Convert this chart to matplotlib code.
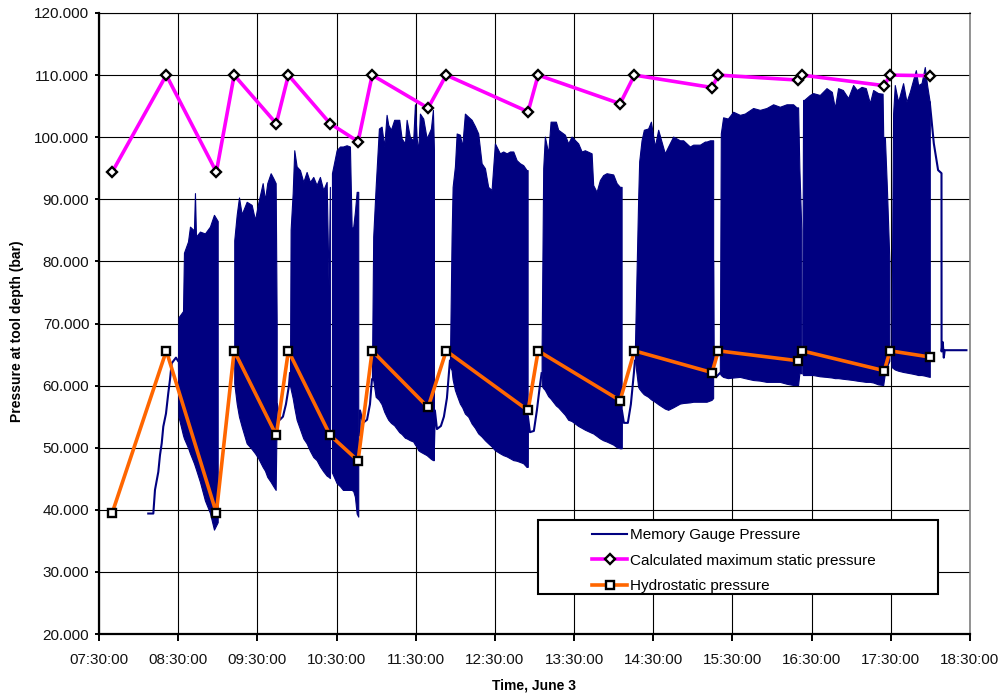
import numpy as np
import matplotlib
matplotlib.use('Agg')
import matplotlib.pyplot as plt
from matplotlib.ticker import FuncFormatter
from matplotlib.lines import Line2D
from matplotlib.patches import Rectangle

plt.rcParams['font.family'] = ['Liberation Sans', 'DejaVu Sans']

# ---------------- data (time in decimal hours, pressure in bar) ----------------
event_times = [7.667, 8.350, 8.982, 9.207, 9.739, 9.892, 10.419, 10.772, 10.950,
               11.656, 11.885, 12.919, 13.046, 14.081, 14.262, 15.242, 15.322,
               16.328, 16.380, 17.417, 17.490, 17.997]
static_max = [94.4, 110.0, 94.4, 110.0, 102.2, 110.0, 102.2, 99.3, 110.0,
              104.7, 110.0, 104.1, 110.0, 105.4, 110.0, 108.0, 110.0,
              109.2, 110.0, 108.3, 110.0, 109.9]
hydrostatic = [39.5, 65.6, 39.5, 65.6, 52.0, 65.6, 52.0, 47.9, 65.6,
               56.5, 65.6, 56.0, 65.6, 57.6, 65.6, 62.1, 65.6,
               64.0, 65.6, 62.4, 65.6, 64.6]

# memory gauge: envelope (max / min) of the oscillating pressure during each burst
gauge_t = [8.497, 8.504, 8.561, 8.573, 8.624, 8.649, 8.699, 8.712, 8.725, 8.775, 8.838, 8.901, 8.952, 8.999, None,
           9.208, 9.239, 9.268, 9.302, 9.365, 9.428, 9.470, 9.511, 9.567, 9.596, 9.625, 9.668, 9.701, 9.731, 9.744, None,
           9.912, 9.920, 9.946, 9.966, 9.996, 10.038, 10.080, 10.122, 10.164, 10.206, 10.248, 10.290, 10.332, 10.375, 10.400, 10.416, None,
           10.442, 10.501, 10.543, 10.581, 10.627, 10.669, 10.691, 10.711, 10.732, 10.754, 10.774, None,
           10.947, 10.963, 10.994, 11.035, 11.069, 11.102, 11.132, 11.153, 11.187, 11.228, 11.292, 11.322, 11.364, 11.385, 11.427, 11.468, 11.490, 11.511, 11.531, 11.553, 11.595, 11.638, 11.692, 11.717, 11.730, None,
           11.932, 11.953, 11.966, 11.995, 12.017, 12.058, 12.087, 12.121, 12.163, 12.206, 12.247, 12.289, 12.332, 12.374, 12.415, 12.458, 12.500, 12.563, 12.605, 12.648, 12.690, 12.732, 12.774, 12.816, 12.857, 12.900, 12.913, None,
           13.090, 13.110, 13.131, 13.173, 13.203, 13.270, 13.299, 13.384, 13.425, 13.468, 13.552, 13.595, 13.636, 13.721, 13.741, 13.784, 13.826, 13.867, 13.910, 13.994, 14.037, 14.078, 14.100, None,
           14.268, 14.309, 14.322, 14.352, 14.381, 14.435, 14.470, 14.520, 14.562, 14.646, 14.688, 14.751, 14.836, 14.878, 14.962, 15.004, 15.089, 15.152, 15.173, 15.215, 15.236, 15.256, None,
           15.341, 15.353, 15.382, 15.442, 15.509, 15.593, 15.656, 15.761, 15.846, 15.930, 16.014, 16.098, 16.183, 16.266, 16.309, 16.329, 16.345, 16.370, None,
           16.382, 16.392, 16.405, 16.477, 16.519, 16.603, 16.688, 16.755, 16.793, 16.834, 16.894, 16.961, 17.024, 17.071, 17.130, 17.184, 17.235, 17.277, 17.340, 17.396, 17.404, 17.425, 17.450, 17.482, None,
           17.509, 17.529, 17.550, 17.592, 17.655, 17.698, 17.740, 17.781, 17.816, 17.845, 17.888, 17.929, 17.958, 17.992]
gauge_hi = [64, 71, 72, 81.4, 83.2, 85.6, 85, 91, 84, 84.8, 84.5, 85.6, 87.5, 86.5, None,
            83.4, 87.5, 90.3, 87.6, 89.6, 89.1, 86.7, 89.4, 92.6, 89.9, 92.6, 94.2, 93.4, 92.6, 70, None,
            62, 85.1, 91.0, 97.9, 95.3, 94.7, 92.8, 94.4, 92.8, 93.6, 92.3, 93.6, 91.5, 92.8, 75.9, 92, None,
            94.2, 97.9, 98.5, 98.5, 98.7, 98.5, 85.3, 85.6, 88, 91.2, 91.2, None,
            62, 84.0, 92.0, 101.4, 101.7, 98.5, 103.6, 102.0, 101.2, 102.8, 102.8, 99.8, 99.0, 102.8, 100, 99.5, 105.3, 100, 97.7, 103.8, 103.0, 99.8, 101.4, 104.4, 98, None,
            64, 84.0, 92.0, 95.3, 100.6, 100.4, 98.5, 103.8, 103.3, 102.8, 101.8, 100.6, 95.8, 95.0, 92.0, 91.5, 99.0, 97.4, 97.7, 97.4, 97.7, 97.7, 96.3, 95.8, 95.5, 94.7, 94.7, None,
            66, 95.0, 100.1, 97.4, 102.5, 102.5, 101.2, 100.4, 99.0, 100.1, 99.0, 97.7, 97.9, 97.4, 92.3, 91.2, 93.1, 93.9, 94.2, 94, 92.6, 92.0, 92.0, None,
            66, 90, 96.1, 99.5, 101.2, 101.4, 102.5, 98.5, 101.2, 97.4, 98.5, 100.1, 99.5, 99.5, 98.5, 98.8, 98.8, 99.3, 99.3, 99.5, 99.5, 99.5, None,
            64, 100.6, 103.2, 103.0, 104.1, 103.6, 103.8, 104.7, 104.4, 104.7, 105.3, 104.9, 105.3, 105.3, 104.8, 104.8, 95, 85, None,
            70, 106.0, 106.0, 106.8, 107.1, 106.8, 107.9, 107.3, 104.7, 107.9, 107.6, 106.3, 108.4, 107.6, 108.1, 107.9, 105.5, 107.6, 107.1, 107.0, 100, 100, 92, 80, None,
            70, 103.8, 108.4, 105.7, 108.7, 105.7, 107.3, 109.2, 110.8, 108.4, 108.7, 111.3, 108.4, 105.6]
gauge_lo = [64, 55, 52, 51.5, 50, 49.1, 47.5, 47, 46.5, 44.5, 41.5, 39.5, 36.8, 38, None,
            60.4, 57.1, 55, 53.4, 50.7, 49.8, 49.1, 48.3, 46.9, 46.3, 45.3, 44.5, 43.8, 43.2, 55, None,
            60, 59.5, 58, 56.5, 54.5, 53, 51.5, 50.7, 49.5, 48.5, 48, 47, 46.2, 45.5, 45.3, 45.1, None,
            46, 44.3, 43.8, 43.2, 43.2, 43.2, 43.2, 43, 42.1, 39.4, 38.9, None,
            61, 60.9, 58.2, 57.7, 57, 55.8, 55, 54.5, 54, 53.6, 52.5, 52.2, 51.6, 51.5, 51.2, 51, 50.5, 50.2, 49.6, 49.4, 49.1, 48.8, 48.2, 48.0, 48, None,
            63, 62.5, 61, 59.3, 58.5, 57.1, 56.5, 55.5, 55, 53.9, 53.2, 52.3, 51.8, 51.2, 50.7, 50.2, 49.6, 49.1, 48.8, 48.6, 48.3, 48, 47.9, 47.7, 47.5, 46.9, 46.9, None,
            60, 59.6, 59.3, 58.3, 57.9, 56.8, 56.5, 55.3, 54.5, 54.3, 53.5, 53.2, 52.9, 52.4, 52.3, 51.9, 51.5, 51.2, 51.0, 50.5, 50.1, 49.9, 49.9, None,
            64.1, 59.8, 59.5, 59, 58.6, 58.2, 57.8, 57.4, 57, 56.3, 56.1, 56.5, 57.1, 57.2, 57.3, 57.4, 57.4, 57.4, 57.4, 57.6, 57.7, 58, None,
            62, 61.7, 61.4, 61.2, 61.3, 61.4, 61.2, 60.9, 60.8, 60.6, 60.6, 60.6, 60.3, 60.1, 60.1, 60.1, 62, 62, None,
            62, 61.7, 61.7, 61.7, 61.7, 61.5, 61.4, 61.3, 61.2, 61.2, 61.1, 61.0, 60.9, 60.8, 60.7, 60.6, 60.6, 60.5, 60.2, 60.1, 60.1, 62, 63, 64, None,
            63, 62.8, 62.6, 62.4, 62.2, 62.1, 62.0, 61.9, 61.8, 61.7, 61.7, 61.6, 61.5, 61.4]

# memory gauge: single-trace parts (run in, between bursts, pull out)
trace_t = [8.122, 8.186, 8.207, 8.249, 8.270, 8.292, 8.312, 8.346, 8.375, 8.396, 8.418, 8.472, 8.497, None,
           9.747, 9.785, 9.823, 9.861, 9.899, 9.912, None,
           10.790, 10.796, 10.834, 10.885, 10.922, 10.947, None,
           11.730, 11.742, 11.768, 11.818, 11.856, 11.894, 11.919, 11.932, None,
           12.913, 12.917, 12.942, 12.992, 13.030, 13.068, 13.090, None,
           14.100, 14.104, 14.129, 14.179, 14.217, 14.255, 14.268, None,
           15.256, 15.265, 15.303, 15.341, None,
           17.992, 18.014, 18.043, 18.077, 18.097, 18.140, 18.141, 18.156, 18.169, 18.181, 18.455]
trace_v = [39.4, 39.4, 43.2, 46.1, 48.8, 50.7, 53.4, 55.5, 58.8, 60.9, 63.6, 64.5, 64, None,
           57, 54.5, 55, 57, 60, 62, None,
           52, 56, 54, 54.5, 57, 61, None,
           50, 56, 53, 53.5, 55, 58, 62, 64, None,
           47, 55, 52.5, 52.7, 56, 60, 62, None,
           50, 56, 54, 54, 57, 62, 64, None,
           80, 62, 61.5, 62, None,
           105.6, 102.8, 99.0, 96.3, 94.7, 94.2, 65.5, 67, 64.5, 65.7, 65.7]

x_ticks = [7.5 + i for i in range(12)]
y_ticks = [20 + 10 * i for i in range(11)]
labels = ['Memory Gauge Pressure', 'Calculated maximum static pressure', 'Hydrostatic pressure']

NAVY = '#000080'
MAGENTA = '#FF00FF'
ORANGE = '#FF6600'


def segments(t, *ys):
    out, cur = [], [[] for _ in range(len(ys) + 1)]
    for i, tv in enumerate(list(t) + [None]):
        if tv is None:
            if cur[0]:
                out.append([np.array(c, dtype=float) for c in cur])
            cur = [[] for _ in range(len(ys) + 1)]
        else:
            cur[0].append(tv)
            for k, y in enumerate(ys):
                cur[k + 1].append(y[i])
    return out


fig = plt.figure(figsize=(10.03, 6.98), dpi=100)
ax = fig.add_axes([99 / 1003, 64 / 698, 871 / 1003, 621 / 698])

for tt, hi, lo in segments(gauge_t, gauge_hi, gauge_lo):
    ax.fill_between(tt, lo, hi, facecolor=NAVY, edgecolor=NAVY, linewidth=0.8, zorder=2)
for tt, vv in segments(trace_t, trace_v):
    ax.plot(tt, vv, color=NAVY, lw=1.5, zorder=2)

ax.plot(event_times, hydrostatic, color=ORANGE, lw=2.6, marker='s', ms=6,
        mfc='white', mec='black', mew=1.7, zorder=4)
ax.plot(event_times, static_max, color=MAGENTA, lw=2.6, marker='D', ms=5.6,
        mfc='white', mec='black', mew=1.7, zorder=5)

ax.set_xlim(7.5, 18.5)
ax.set_ylim(20, 120)
ax.set_xticks(x_ticks)
ax.set_yticks(y_ticks)


def fmt_time(v, pos):
    h = int(np.floor(v + 1e-9))
    m = int(round((v - h) * 60))
    return f'{h:02d}:{m:02d}:00'


ax.xaxis.set_major_formatter(FuncFormatter(fmt_time))
ax.yaxis.set_major_formatter(FuncFormatter(lambda v, p: f'{v:.3f}'))
ax.grid(True, color='black', linewidth=0.8)
ax.set_axisbelow(True)

for s in ('left', 'bottom'):
    ax.spines[s].set_color('black')
    ax.spines[s].set_linewidth(1.6)
ax.spines['top'].set_color('black')
ax.spines['top'].set_linewidth(0.8)
ax.spines['right'].set_color('#808080')
ax.spines['right'].set_linewidth(1.2)

ax.tick_params(axis='x', direction='out', length=5, width=1.4, pad=9, labelsize=11, colors='black')
ax.tick_params(axis='y', direction='out', length=3, width=1.4, pad=4, labelsize=11, colors='black')
for lab in ax.get_xticklabels() + ax.get_yticklabels():
    lab.set_color('#111111')

fig.text(534 / 1003, 1 - 685 / 698, 'Time, June 3', ha='center', va='center',
         fontsize=10, fontweight='bold')
fig.text(17 / 1003, 1 - 331 / 698, 'Pressure at tool depth (bar)', ha='center', va='center',
         rotation=90, fontsize=10, fontweight='bold')

# legend
box = Rectangle((538 / 1003, 1 - 594 / 698), 400 / 1003, 74 / 698, transform=fig.transFigure,
                facecolor='white', edgecolor='black', linewidth=1.5, zorder=4)
fig.add_artist(box)
handles = [
    Line2D([], [], color=NAVY, lw=1.5),
    Line2D([], [], color=MAGENTA, lw=2.6, marker='D', ms=5.6, mfc='white', mec='black', mew=1.7),
    Line2D([], [], color=ORANGE, lw=2.6, marker='s', ms=6, mfc='white', mec='black', mew=1.7),
]
leg = fig.legend(handles, labels, loc='upper left', bbox_to_anchor=(592 / 1003, 1 - 528 / 698),
                 frameon=False, fontsize=11, handlelength=2.3, handletextpad=0.2,
                 labelspacing=0.76, borderpad=0, borderaxespad=0, numpoints=1)
leg.set_zorder(6)

fig.savefig('out.png', dpi=100)
